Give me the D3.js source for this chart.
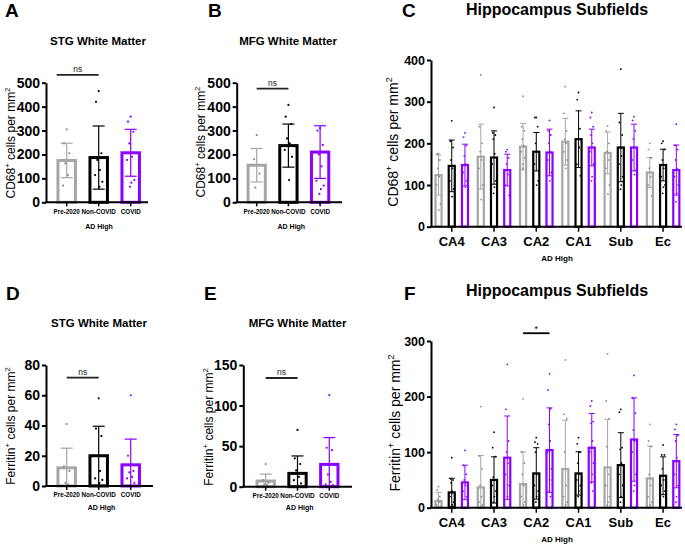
<!DOCTYPE html>
<html><head><meta charset="utf-8">
<script src="https://cdn.jsdelivr.net/npm/d3@7"></script>
<style>body{margin:0;background:#fff}svg text{font-family:Arial,"Liberation Sans",sans-serif}</style>
</head><body>
<svg id="c" width="685" height="547"></svg>
<script>
// ---------- DATA ----------
const groups = ["Pre-2020", "Non-COVID", "COVID"];
const colors = ["#a6a6a6", "#000000", "#8c00ff"];
const subfields = ["CA4", "CA3", "CA2", "CA1", "Sub", "Ec"];

// A: STG WM CD68
const aMeans = [175, 187, 207];
const aSD = [72, 132, 98];
const aPoints = [[305, 246, 205, 163, 114, 70], [465, 420, 205, 177, 135, 114, 86, 65], [358, 337, 295, 246, 190, 177, 93, 82, 65]];
// B: MFG WM CD68
const bMeans = [155, 237, 210];
const bSD = [70, 90, 110];
const bPoints = [[281, 180, 120, 61], [407, 358, 327, 267, 246, 219, 190, 93], [310, 300, 240, 200, 150, 90, 70, 55, 35]];
// D: STG WM Ferritin
const dMeans = [12, 20, 14];
const dSD = [13, 19.5, 17];
const dPoints = [[41, 13, 10, 2, 1], [58, 38, 33, 20, 10, 5, 4, 2], [60, 20, 10, 9, 6, 5, 2]];
// E: MFG WM Ferritin
const eMeans = [7, 16.4, 27.5];
const eSD = [8.5, 21.5, 33];
const ePoints = [[28, 8, 5, 3, 2, 1], [70, 35, 28, 20, 12, 8, 4, 1], [113, 48, 45, 15, 6, 3, 2, 0]];

// C: Hippocampus CD68 (per subfield)
const cMeans = [[124, 146, 148], [168, 166, 136], [192, 180, 178], [204, 210, 190], [177, 190, 190], [130, 148, 136]];
const cSD = [[48, 62, 50], [78, 64, 38], [56, 46, 56], [56, 68, 44], [50, 82, 56], [36, 38, 60]];
const cPoints = [
  [[175, 175, 160, 140, 120, 100, 55, 40], [254, 205, 190, 160, 140, 110, 90, 72], [225, 215, 195, 170, 150, 130, 110, 95]],
  [[364, 240, 200, 180, 160, 140, 100, 65], [286, 225, 220, 210, 175, 150, 110, 95, 80], [185, 180, 165, 150, 125, 100, 75]],
  [[313, 240, 230, 210, 195, 180, 165, 150, 140], [262, 262, 240, 200, 180, 150, 110, 100], [255, 230, 220, 200, 180, 160, 130, 110]],
  [[336, 272, 230, 210, 200, 180, 160, 140], [322, 305, 235, 210, 190, 150, 122], [274, 262, 240, 220, 200, 180, 150, 120, 110]],
  [[242, 230, 200, 180, 160, 140, 100, 78], [378, 250, 220, 190, 170, 150, 120, 100, 90], [264, 255, 230, 210, 190, 160, 135, 125]],
  [[200, 185, 165, 140, 120, 100, 74], [205, 200, 185, 160, 140, 120, 100, 95, 80], [246, 195, 185, 160, 140, 120, 100, 80, 60]]
];
// F: Hippocampus Ferritin
const fMeans = [[12, 27.5, 45.5], [36.5, 50, 90], [42.5, 61.7, 103.6], [69.5, 61.7, 107.8], [72.5, 76.6, 122.7], [52.7, 57.5, 83.8]];
const fSD = [[15.5, 25.5, 31], [57.5, 41.6, 75], [58, 46.3, 76], [88, 39, 61.7], [86.5, 58.4, 75], [58.3, 34, 48]];
const fPoints = [
  [[38, 32, 20, 15, 10, 5, 2], [90, 52, 50, 45, 30, 20, 10, 5], [103, 76, 60, 50, 40, 30, 20]],
  [[182, 93, 70, 40, 20, 10, 5, 2], [136, 108, 92, 55, 50, 40, 30, 20, 10], [258, 177, 120, 100, 80, 60, 40, 20]],
  [[196, 100, 80, 60, 40, 20, 10, 5], [126, 118, 115, 100, 60, 40, 30, 20, 10], [241, 212, 178, 150, 120, 100, 70, 50, 30, 20]],
  [[266, 168, 160, 100, 40, 20, 10, 5], [126, 115, 100, 80, 60, 50, 40, 30, 20], [192, 183, 155, 152, 120, 100, 80, 60, 45, 30]],
  [[277, 192, 160, 110, 60, 40, 20, 10, 5], [177, 172, 108, 105, 80, 60, 40, 20, 10], [238, 197, 170, 140, 120, 100, 60, 40, 30]],
  [[150, 120, 110, 60, 40, 20, 10, 5], [113, 95, 95, 70, 50, 40, 30, 20], [150, 141, 130, 120, 90, 60, 40, 20, 10]]
];

const cTicks = [0, 100, 200, 300, 400];
const fTicks = [0, 100, 200, 300];

// ---------- DRAW ----------
const svg = d3.select("#c");
const jit = [0, -3, 3, -1.5, 1.5, -4, 4, 0.8, -0.8, 2.2];
const FF = "Arial,'Liberation Sans',sans-serif";

function ylabel(g, x, y, size, word) {
  const t = g.append("text").attr("transform", `translate(${x},${y}) rotate(-90)`)
    .attr("text-anchor", "middle").attr("font-size", size).attr("fill", "#000");
  t.append("tspan").text(word);
  t.append("tspan").attr("dy", -size * 0.4).attr("font-size", size * 0.65).text("+");
  t.append("tspan").attr("dy", size * 0.4).text(" cells per mm");
  t.append("tspan").attr("dy", -size * 0.4).attr("font-size", size * 0.65).text("2");
}

function letter(x, y, s) {
  svg.append("text").attr("x", x).attr("y", y).attr("font-size", 19).attr("font-weight", "bold").text(s);
}
function title(x, y, s, size) {
  svg.append("text").attr("x", x).attr("y", y).attr("font-size", size).attr("font-weight", "bold")
    .attr("text-anchor", "middle").text(s);
}

function smallPanel(o) {
  const g = svg.append("g");
  const y = d3.scaleLinear().domain([0, o.max]).range([o.y0, o.yTop]);
  const x = d3.scaleBand().domain(groups).range([o.c0 - o.step / 2, o.c0 + o.step * 2.5]).paddingInner(0.36).paddingOuter(0.18);
  const bw = x.bandwidth();
  groups.forEach((k, i) => {
    const cx = x(k) + bw / 2;
    g.append("rect").attr("x", x(k) + 1.5).attr("y", y(o.means[i])).attr("width", bw - 3)
      .attr("height", y(0) - y(o.means[i])).attr("fill", "#fff").attr("stroke", colors[i]).attr("stroke-width", 3);
    const hi = o.means[i] + o.sd[i], lo = Math.max(0, o.means[i] - o.sd[i]);
    const eg = g.append("g").attr("stroke", colors[i]).attr("stroke-width", 1.2);
    eg.append("line").attr("x1", cx).attr("x2", cx).attr("y1", y(hi)).attr("y2", y(lo));
    eg.append("line").attr("x1", cx - 6).attr("x2", cx + 6).attr("y1", y(hi)).attr("y2", y(hi));
    eg.append("line").attr("x1", cx - 6).attr("x2", cx + 6).attr("y1", y(lo)).attr("y2", y(lo));
    g.selectAll(null).data(o.points[i]).enter().append("circle")
      .attr("cx", (d, j) => cx + jit[j % jit.length] * 0.9).attr("cy", d => y(d)).attr("r", 1.1)
      .attr("fill", i === 0 ? "#8a8a8a" : colors[i]);
  });
  const ya = g.append("g").attr("transform", `translate(${o.ax},0)`)
    .call(d3.axisLeft(y).tickValues(o.ticks).tickSize(4).tickPadding(2).tickSizeOuter(0));
  ya.select(".domain").attr("stroke-width", 2);
  ya.selectAll(".tick line").attr("stroke-width", 2);
  ya.selectAll("text").attr("font-size", 14).attr("font-weight", "bold").attr("fill", "#000").style("font-family", FF);
  g.append("line").attr("x1", o.ax - 1).attr("x2", o.xEnd).attr("y1", o.y0).attr("y2", o.y0).attr("stroke", "#000").attr("stroke-width", 2);
  const xa = g.append("g").attr("transform", `translate(0,${o.y0})`).call(d3.axisBottom(x).tickSize(4).tickPadding(3));
  xa.select(".domain").remove();
  xa.selectAll(".tick line").attr("stroke-width", 1.5);
  xa.selectAll("text").attr("font-size", 6.3).attr("font-weight", "bold").attr("fill", "#000").style("font-family", FF);
  g.append("text").attr("x", (o.ax + o.xEnd) / 2 + 2).attr("y", o.y0 + o.adOff).attr("text-anchor", "middle")
    .attr("font-size", 7).attr("font-weight", "bold").text("AD High");
  const bx1 = x(groups[0]) + bw / 2 + (o.bOff || 0), bx2 = x(groups[1]) + bw / 2;
  g.append("line").attr("x1", bx1).attr("x2", bx2).attr("y1", y(o.bVal)).attr("y2", y(o.bVal)).attr("stroke", "#222").attr("stroke-width", 1.8);
  g.append("text").attr("x", (bx1 + bx2) / 2).attr("y", y(o.bVal) - 3).attr("text-anchor", "middle").attr("font-size", 8.5).attr("fill", "#222").text("ns");
  ylabel(g, o.lx, o.ly, 12, o.word);
}

smallPanel({ax: 46, xEnd: 148, c0: 66.7, step: 32, y0: 202.3, yTop: 82.7, max: 500, ticks: [0, 100, 200, 300, 400, 500],
  means: aMeans, sd: aSD, points: aPoints, bVal: 533, bOff: -10, lx: 15, ly: 143, word: "CD68", adOff: 27});
smallPanel({ax: 236.7, xEnd: 342, c0: 256.7, step: 31.7, y0: 202.3, yTop: 82.7, max: 500, ticks: [0, 100, 200, 300, 400, 500],
  means: bMeans, sd: bSD, points: bPoints, bVal: 475, lx: 205, ly: 142, word: "CD68", adOff: 27});
smallPanel({ax: 46, xEnd: 153, c0: 66.7, step: 32, y0: 486, yTop: 365, max: 80, ticks: [0, 20, 40, 60, 80],
  means: dMeans, sd: dSD, points: dPoints, bVal: 71.6, lx: 15, ly: 426, word: "Ferritin", adOff: 23.5});
smallPanel({ax: 243.3, xEnd: 352, c0: 265.7, step: 31.8, y0: 486.7, yTop: 365, max: 150, ticks: [0, 50, 100, 150],
  means: eMeans, sd: eSD, points: ePoints, bVal: 134, lx: 213, ly: 427, word: "Ferritin", adOff: 23});

function bigPanel(o) {
  const g = svg.append("g");
  const y = d3.scaleLinear().domain([0, o.max]).range([o.y0, o.yTop]);
  const x0 = d3.scaleBand().domain(subfields).range([430.6, 684.2]);
  const x1 = d3.scaleBand().domain(groups).range([3.9, 38.4]).paddingInner(0.39);
  const bw = x1.bandwidth();
  subfields.forEach((s, si) => {
    groups.forEach((k, i) => {
      const bx = x0(s) + x1(k), cx = bx + bw / 2;
      const m = o.means[si][i];
      g.append("rect").attr("x", bx + 1).attr("y", y(m)).attr("width", bw - 2).attr("height", y(0) - y(m))
        .attr("fill", "#fff").attr("stroke", colors[i]).attr("stroke-width", 2.2);
      const hi = m + o.sd[si][i], lo = Math.max(0, m - o.sd[si][i]);
      const eg = g.append("g").attr("stroke", colors[i]).attr("stroke-width", 1);
      eg.append("line").attr("x1", cx).attr("x2", cx).attr("y1", y(hi)).attr("y2", y(lo));
      eg.append("line").attr("x1", cx - 3).attr("x2", cx + 3).attr("y1", y(hi)).attr("y2", y(hi));
      eg.append("line").attr("x1", cx - 3).attr("x2", cx + 3).attr("y1", y(lo)).attr("y2", y(lo));
      g.selectAll(null).data(o.points[si][i]).enter().append("circle")
        .attr("cx", (d, j) => cx + jit[j % jit.length] * 0.45).attr("cy", d => y(d)).attr("r", 0.9)
        .attr("fill", i === 0 ? "#8a8a8a" : colors[i]);
    });
  });
  const ya = g.append("g").attr("transform", `translate(431,0)`)
    .call(d3.axisLeft(y).tickValues(o.ticks).tickSize(4).tickPadding(2).tickSizeOuter(0));
  ya.select(".domain").attr("stroke-width", 2);
  ya.selectAll(".tick line").attr("stroke-width", 2);
  ya.selectAll("text").attr("font-size", 12.5).attr("font-weight", "bold").attr("fill", "#000").style("font-family", FF);
  g.append("line").attr("x1", 430).attr("x2", 682).attr("y1", o.y0).attr("y2", o.y0).attr("stroke", "#000").attr("stroke-width", 2);
  const xa = g.append("g").attr("transform", `translate(0,${o.y0})`)
    .call(d3.axisBottom(x0).tickSize(5).tickPadding(5).tickSizeOuter(0));
  xa.select(".domain").remove();
  xa.selectAll(".tick line").attr("transform", `translate(${x1(groups[1]) + bw / 2 - x0.bandwidth() / 2},0)`).attr("stroke-width", 1.5);
  xa.selectAll("text").attr("font-size", 13).attr("font-weight", "bold").attr("fill", "#000").style("font-family", FF);
  g.append("text").attr("x", 557).attr("y", o.y0 + 34).attr("text-anchor", "middle")
    .attr("font-size", 8).attr("font-weight", "bold").text("AD High");
  if (o.bVal) {
    const bx1 = x0(subfields[2]) + x1(groups[0]) + bw / 2, bx2 = x0(subfields[2]) + x1(groups[2]) + bw / 2;
    g.append("line").attr("x1", bx1).attr("x2", bx2).attr("y1", y(o.bVal)).attr("y2", y(o.bVal)).attr("stroke", "#000").attr("stroke-width", 1.8);
    g.append("text").attr("x", (bx1 + bx2) / 2).attr("y", y(o.bVal) - 1).attr("text-anchor", "middle").attr("font-size", 9).text("*");
  }
  ylabel(g, o.lx, o.ly, 14, o.word);
}

bigPanel({y0: 226.7, yTop: 60, max: 400, ticks: cTicks, means: cMeans, sd: cSD, points: cPoints, lx: 398, ly: 142, word: "CD68"});
bigPanel({y0: 507.7, yTop: 341, max: 300, ticks: fTicks, means: fMeans, sd: fSD, points: fPoints, bVal: 314, lx: 400, ly: 423, word: "Ferritin"});

letter(5, 17, "A"); letter(208, 17, "B"); letter(402, 17, "C");
letter(6, 300, "D"); letter(204, 300, "E"); letter(404, 300, "F");
title(98, 45, "STG White Matter", 11.5);
title(288, 45, "MFG White Matter", 11.5);
title(557, 15, "Hippocampus Subfields", 16);
title(99, 327, "STG White Matter", 11.5);
title(297.5, 327, "MFG White Matter", 11.5);
title(557, 296, "Hippocampus Subfields", 16);
</script>
</body></html>
